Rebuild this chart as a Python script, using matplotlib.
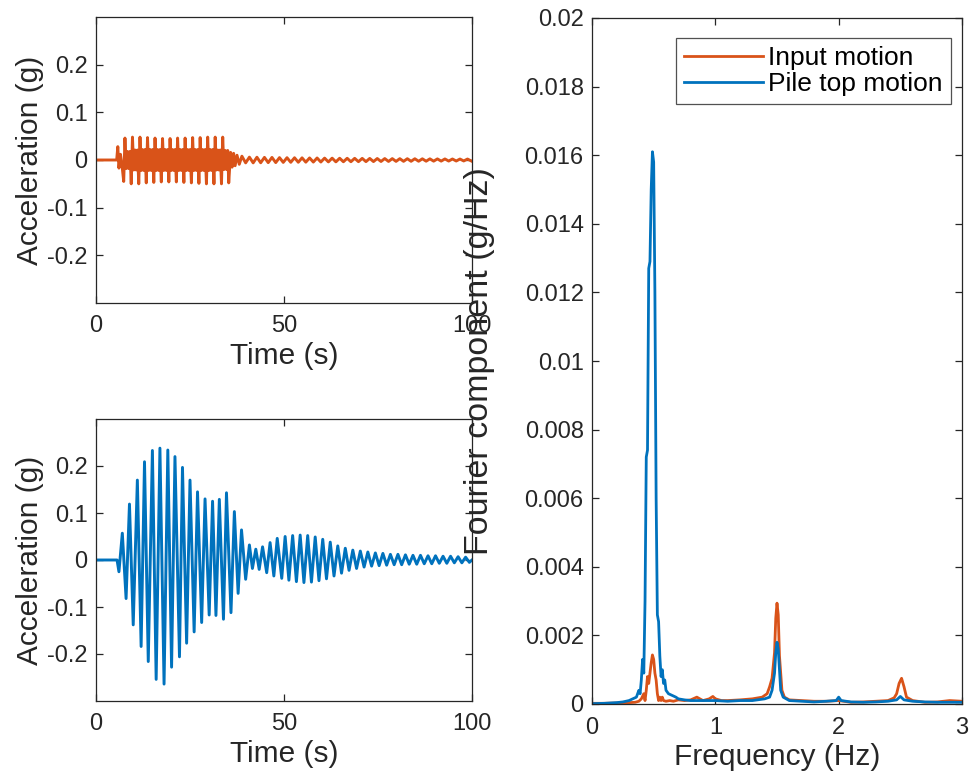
import numpy as np
import matplotlib
matplotlib.use("Agg")
import matplotlib.pyplot as plt

# ---------------- data ----------------
# Input motion (top-left): tall spikes each ~2 s cycle, dense fill between
in_onset_t = [0.0, 5.5, 5.8, 6.1, 6.5, 6.9]
in_onset_v = [0.0, 0.0, 0.028, -0.017, 0.012, -0.010]
in_spike_t = [7.7, 9.7, 11.7, 13.7, 15.7, 17.7, 19.7, 21.7, 23.7, 25.7, 27.7, 29.7, 31.7, 33.7]
in_spike_up = [0.046, 0.048, 0.048, 0.047, 0.046, 0.045, 0.045, 0.046, 0.046, 0.047, 0.047, 0.048, 0.048, 0.048]
in_spike_dn = [-0.045, -0.050, -0.050, -0.048, -0.047, -0.046, -0.046, -0.046, -0.047, -0.048, -0.049, -0.050, -0.050, -0.050]
in_fill = [0.018, 0.021, 0.022, 0.022, 0.022, 0.022, 0.022, 0.022, 0.022, 0.022, 0.022, 0.022, 0.021, 0.020]
in_decay_t = [35.3, 35.8, 36.2, 36.6, 37.0, 37.5, 38.1, 38.8, 39.8]
in_decay_v = [-0.048, 0.016, -0.015, 0.014, -0.012, 0.010, -0.009, 0.008, -0.006]
in_tail_t = [40.8, 42.8, 44.8, 46.8, 48.8, 50.8, 52.8, 54.8, 56.8, 58.8, 60.8, 62.8, 64.8, 66.8, 68.8,
             70.8, 72.8, 74.8, 76.8, 78.8, 80.8, 82.8, 84.8, 86.8, 88.8, 90.8, 92.8, 94.8, 96.8, 98.8]
in_tail_amp = [0.006, 0.0058, 0.0055, 0.0054, 0.005, 0.0048, 0.0047, 0.0045, 0.0043, 0.0042, 0.004, 0.0039,
               0.0037, 0.0036, 0.0035, 0.0034, 0.0033, 0.0031, 0.003, 0.0029, 0.0028, 0.0027, 0.0026,
               0.0025, 0.0024, 0.0023, 0.0022, 0.0021, 0.002, 0.002]

# Pile top motion (bottom-left): successive extrema (time s, acceleration g)
pile_t = [0.0, 5.6, 6.1, 7.0, 8.0, 8.9, 9.9, 11.0, 12.0, 12.9, 13.9, 15.0, 16.0, 17.0, 18.1, 19.1, 20.1,
          21.0, 22.2, 23.0, 24.1, 25.0, 26.1, 27.0, 28.1, 29.0, 30.1, 31.0, 31.9, 32.8, 33.9, 34.7, 35.9,
          36.8, 37.8, 38.7, 39.8, 40.8, 41.6, 42.5, 43.4, 44.3, 45.4, 46.3, 47.3, 48.2, 49.4, 50.3, 51.3,
          52.3, 53.3, 54.3, 55.3, 56.3, 57.3, 58.3, 59.3, 60.3, 61.3, 62.3, 63.3, 64.3, 65.3, 66.3, 67.3,
          68.3, 69.3, 70.3, 71.3, 72.3, 73.3, 74.3, 75.3, 76.3, 77.3, 78.3, 79.3, 80.3, 81.3, 82.3, 83.3,
          84.3, 85.3, 86.3, 87.3, 88.3, 89.3, 90.3, 91.3, 92.3, 93.3, 94.3, 95.3, 96.3, 97.3, 98.3, 99.3, 100.0]
pile_a = [0.0, 0.0, -0.025, 0.057, -0.082, 0.119, -0.138, 0.170, -0.184, 0.209, -0.216, 0.233, -0.254,
          0.238, -0.264, 0.234, -0.228, 0.220, -0.206, 0.197, -0.177, 0.170, -0.153, 0.145, -0.133, 0.130,
          -0.117, 0.125, -0.118, 0.129, -0.126, 0.143, -0.112, 0.103, -0.071, 0.064, -0.041, 0.032, -0.018,
          0.023, -0.020, 0.028, -0.027, 0.037, -0.034, 0.046, -0.039, 0.050, -0.043, 0.052, -0.046, 0.053,
          -0.048, 0.052, -0.047, 0.049, -0.044, 0.044, -0.040, 0.038, -0.034, 0.030, -0.028, 0.025, -0.022,
          0.021, -0.018, 0.019, -0.015, 0.017, -0.013, 0.015, -0.012, 0.014, -0.011, 0.012, -0.010, 0.012,
          -0.010, 0.011, -0.009, 0.010, -0.009, 0.010, -0.008, 0.009, -0.008, 0.009, -0.007, 0.008, -0.007,
          0.008, -0.006, 0.007, -0.006, 0.006, -0.005, 0.0]

# Fourier spectra (right)
in_f = [0, 0.1, 0.2, 0.3, 0.35, 0.38, 0.40, 0.42, 0.43, 0.44, 0.45, 0.46, 0.47, 0.48, 0.49, 0.50, 0.51,
        0.52, 0.53, 0.54, 0.55, 0.56, 0.57, 0.58, 0.60, 0.63, 0.66, 0.70, 0.75, 0.80, 0.85, 0.90, 0.95,
        0.98, 1.0, 1.05, 1.1, 1.2, 1.3, 1.38, 1.42, 1.44, 1.46, 1.48, 1.49, 1.50, 1.51, 1.52, 1.54, 1.56,
        1.6, 1.7, 1.8, 1.9, 2.0, 2.1, 2.2, 2.3, 2.4, 2.45, 2.47, 2.49, 2.51, 2.53, 2.55, 2.6, 2.7, 2.8,
        2.9, 3.0]
in_amp = [0.00002, 0.00002, 0.00003, 0.00004, 0.00005, 0.00008, 0.00015, 0.0003, 0.0001, 0.0004, 0.0008,
          0.0006, 0.0009, 0.0012, 0.00143, 0.0013, 0.0009, 0.0007, 0.0003, 0.0001, 0.0002, 0.0001, 0.0002,
          0.0001, 0.00008, 0.0001, 0.00008, 0.00012, 0.0001, 0.00012, 0.0002, 0.0001, 0.00015, 0.00022,
          0.00015, 0.0001, 0.0001, 0.00012, 0.00015, 0.0002, 0.0003, 0.0005, 0.00075, 0.0015, 0.0025,
          0.00294, 0.0026, 0.0014, 0.0004, 0.0002, 0.00012, 0.0001, 0.00008, 0.00008, 0.0001, 0.00005,
          0.00006, 0.00008, 0.0001, 0.00018, 0.0003, 0.0006, 0.00075, 0.0005, 0.0002, 0.0001, 0.00005,
          0.00006, 0.0001, 0.00008]
pile_f = [0, 0.1, 0.2, 0.25, 0.3, 0.33, 0.36, 0.38, 0.39, 0.40, 0.41, 0.42, 0.43, 0.44, 0.45, 0.46, 0.47,
          0.48, 0.49, 0.50, 0.51, 0.52, 0.53, 0.54, 0.55, 0.56, 0.57, 0.58, 0.59, 0.60, 0.62, 0.65,
          0.68, 0.7, 0.75, 0.8, 0.9, 1.0, 1.1, 1.2, 1.3, 1.4, 1.44, 1.46, 1.48, 1.49, 1.50, 1.51, 1.52,
          1.53, 1.55, 1.6, 1.7, 1.8, 1.9, 1.98, 2.0, 2.02, 2.1, 2.2, 2.3, 2.4, 2.47, 2.5, 2.53, 2.6, 2.7,
          2.8, 2.9, 3.0]
pile_amp = [0.00001, 0.00002, 0.00004, 0.00006, 0.0001, 0.00015, 0.0002, 0.0004, 0.0003, 0.0007, 0.0013,
            0.0009, 0.0030, 0.0072, 0.0074, 0.0127, 0.0129, 0.0150, 0.0161, 0.0158, 0.0120, 0.0060,
            0.0026, 0.0024, 0.0014, 0.0008, 0.0010, 0.0006, 0.0007, 0.0004, 0.0003, 0.00025, 0.0002,
            0.00015, 0.00012, 0.0001, 0.0001, 0.0001, 0.00008, 0.0001, 0.0001, 0.00015, 0.0002, 0.0004,
            0.0009, 0.0015, 0.0018, 0.0016, 0.0010, 0.0004, 0.0002, 0.0001, 0.00008, 0.00006, 0.00008,
            0.0001, 0.0002, 0.0001, 0.00006, 0.00005, 0.00006, 0.00008, 0.00012, 0.00022, 0.00012,
            0.00008, 0.00006, 0.00005, 0.00005, 0.00005]

acc_ticks = [-0.2, -0.1, 0, 0.1, 0.2]
acc_labels = ["-0.2", "-0.1", "0", "0.1", "0.2"]
time_ticks = [0, 50, 100]
freq_ticks = [0, 1, 2, 3]
spec_ticks = [0, 0.002, 0.004, 0.006, 0.008, 0.01, 0.012, 0.014, 0.016, 0.018, 0.02]
spec_labels = ["0", "0.002", "0.004", "0.006", "0.008", "0.01", "0.012", "0.014", "0.016", "0.018", "0.02"]
legend_labels = ["Input motion", "Pile top motion"]

# ---------------- assemble input waveform from read extrema ----------------
cyc_offsets = [-0.33, 0.0, 0.33, 0.67, 1.0, 1.33]
in_t = list(in_onset_t)
in_v = list(in_onset_v)
for t0, up, dn, fl in zip(in_spike_t, in_spike_up, in_spike_dn, in_fill):
    vals = [dn, up, -fl, fl, -fl, fl]
    for o, v in zip(cyc_offsets, vals):
        in_t.append(t0 + o)
        in_v.append(v)
in_t += in_decay_t
in_v += in_decay_v
for tp, a in zip(in_tail_t, in_tail_amp):
    in_t += [tp, tp + 1.0]
    in_v += [a, -a]

# ---------------- style ----------------
plt.rcParams['font.family'] = ['Liberation Sans', 'DejaVu Sans']
ORANGE = '#D95319'
BLUE = '#0072BD'
AX_COL = '#262626'
TICK_FS = 17
LAB_FS = 21.5

fig = plt.figure(figsize=(9.76, 7.8), dpi=100)
W, H = 976, 780

def add_ax(l, t, r, b):
    return fig.add_axes([l / W, 1 - b / H, (r - l) / W, (b - t) / H])

ax1 = add_ax(96, 17, 472, 303)
ax2 = add_ax(96, 419, 472, 701)
ax3 = add_ax(592, 18, 962, 704)

def style(ax):
    for s in ax.spines.values():
        s.set_color(AX_COL)
        s.set_linewidth(0.9)
    ax.tick_params(direction='in', top=True, right=True, length=5, width=0.9,
                   color=AX_COL, labelsize=TICK_FS, labelcolor=AX_COL)
    ax.tick_params(axis='x', pad=9)
    ax.tick_params(axis='y', pad=6)

ax1.plot(in_t, in_v, color=ORANGE, lw=2.1)
ax2.plot(pile_t, pile_a, color=BLUE, lw=2.1)
for ax in (ax1, ax2):
    ax.set_xlim(0, 100)
    ax.set_ylim(-0.3, 0.3)
    ax.set_xticks(time_ticks)
    ax.set_yticks(acc_ticks)
    ax.set_yticklabels(acc_labels)
    ax.set_xlabel("Time (s)", fontsize=LAB_FS, color=AX_COL, labelpad=3)
    ax.set_ylabel("Acceleration (g)", fontsize=LAB_FS, color=AX_COL, labelpad=2)
    style(ax)

l1, = ax3.plot(in_f, in_amp, color=ORANGE, lw=2.0)
l2, = ax3.plot(pile_f, pile_amp, color=BLUE, lw=2.0)
ax3.set_xlim(0, 3)
ax3.set_ylim(0, 0.02)
ax3.set_xticks(freq_ticks)
ax3.set_yticks(spec_ticks)
ax3.set_yticklabels(spec_labels)
ax3.set_xlabel("Frequency (Hz)", fontsize=LAB_FS, color=AX_COL, labelpad=3)
ax3.set_ylabel("Fourier component (g/Hz)", fontsize=24.5, color=AX_COL, labelpad=21)
style(ax3)
leg = ax3.legend([l1, l2], legend_labels, loc='upper right', bbox_to_anchor=(0.97, 0.971),
                 fontsize=19, handlelength=3.0, handletextpad=0.2, borderpad=0.3,
                 labelspacing=0.08, frameon=True, fancybox=False, borderaxespad=0)
leg.get_frame().set_edgecolor(AX_COL)
leg.get_frame().set_linewidth(0.9)
for line in leg.get_lines():
    line.set_linewidth(2.0)

fig.savefig("out.png", dpi=100)
